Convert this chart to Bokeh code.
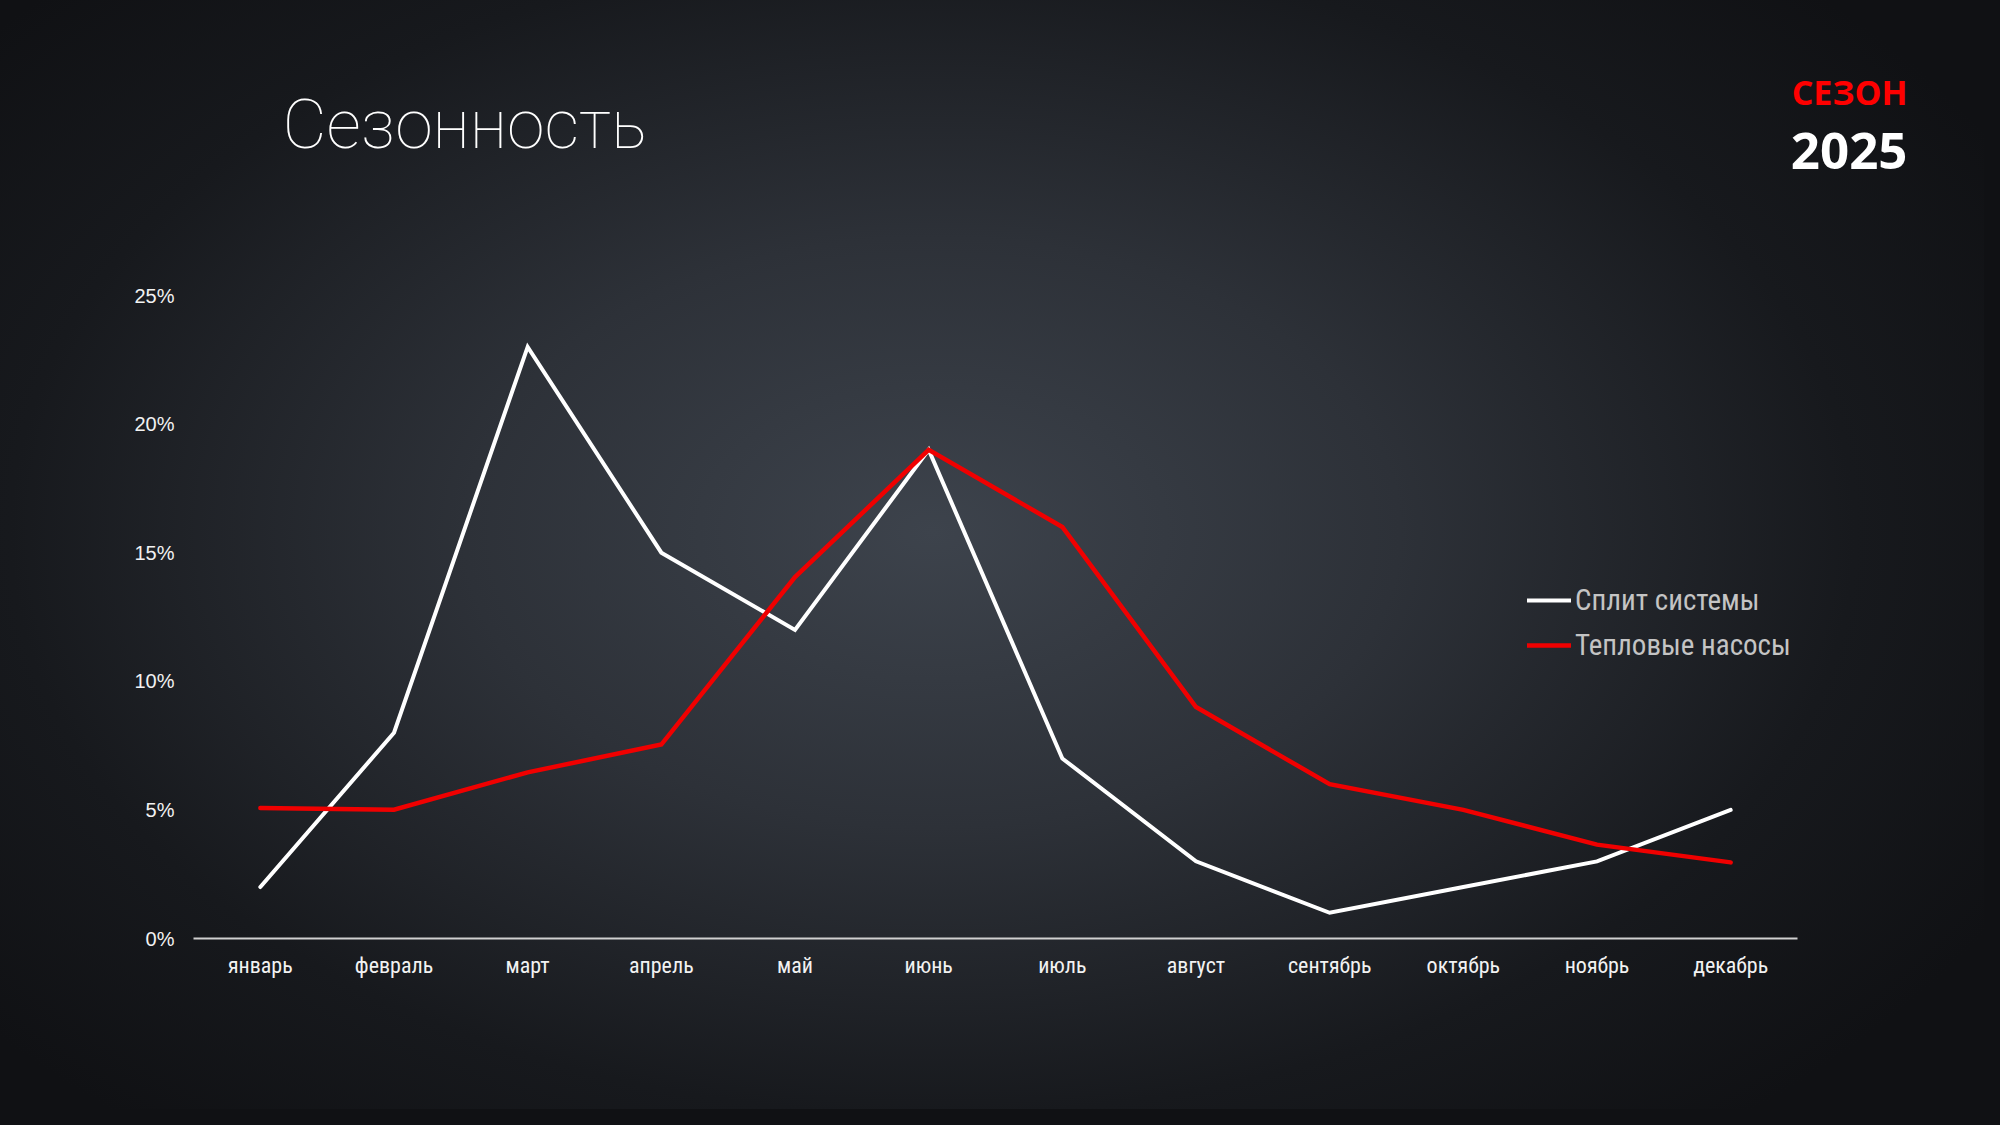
from bokeh.plotting import figure
from bokeh.models import (Range1d, FixedTicker, NumeralTickFormatter,
                          Label, GlobalInlineStyleSheet, ColumnDataSource)
from bokeh.embed import file_html
from bokeh.resources import INLINE

months = ["январь", "февраль", "март", "апрель", "май", "июнь",
          "июль", "август", "сентябрь", "октябрь", "ноябрь", "декабрь"]
split_systems = [0.02, 0.08, 0.23, 0.15, 0.12, 0.19, 0.07, 0.03, 0.01, 0.02, 0.03, 0.05]
heat_pumps = [0.0507, 0.0501, 0.0646, 0.0754, 0.1405, 0.19, 0.16, 0.09, 0.06, 0.05, 0.0365, 0.0296]
series_names = ["Сплит системы", "Тепловые насосы"]
y_ticks = [0, 0.05, 0.10, 0.15, 0.20, 0.25]
y_max_tick = 0.25
title_text = "Сезонность"
season_text = "СЕЗОН"
year_text = "2025"

NARROW = "'Liberation Sans Narrow', 'Roboto Condensed', Roboto, sans-serif"

# page geometry (pixels)
W, H = 1984, 1109
PLOT_LEFT, PLOT_RIGHT = 193, 1797      # extent of the 12 month slots
AXIS_Y, TOP_TICK_Y = 938, 295          # pixel rows of 0% and 25%

n = len(months)
x_pos = [i + 0.5 for i in range(n)]     # centre of each month slot
x_end = n * (W - PLOT_LEFT) / (PLOT_RIGHT - PLOT_LEFT)
y_end = y_max_tick * AXIS_Y / (AXIS_Y - TOP_TICK_Y)

src = ColumnDataSource(dict(x=x_pos, month=months, split=split_systems, heat=heat_pumps))

p = figure(width=W, height=H,
           x_range=Range1d(0, x_end), y_range=Range1d(0, y_end),
           output_backend="svg", toolbar_location=None,
           min_border_left=PLOT_LEFT, min_border_right=0,
           min_border_top=0, min_border_bottom=H - AXIS_Y)

p.background_fill_color = None
p.border_fill_color = None
p.outline_line_color = None
p.styles = {"background": "radial-gradient(ellipse 62% 70% at 47% 48%, #3d434c 0%, #2d3138 38%, #17191d 75%, #101114 100%)"}
p.stylesheets = [GlobalInlineStyleSheet(css="html, body { background: #101114; }")]
p.xgrid.visible = False
p.ygrid.visible = False

xa = p.xaxis[0]
xa.ticker = FixedTicker(ticks=x_pos)
xa.major_label_overrides = {x: m for x, m in zip(x_pos, months)}
xa.bounds = (0, n)
xa.axis_line_color = "#d0d0d0"
xa.axis_line_width = 2
xa.major_tick_line_color = None
xa.minor_tick_line_color = None
xa.major_label_text_color = "#f2f2f2"
xa.major_label_text_font = NARROW
xa.major_label_text_font_size = "22px"
xa.major_label_standoff = 8

ya = p.yaxis[0]
ya.axis_line_color = None
ya.major_tick_line_color = None
ya.minor_tick_line_color = None
ya.ticker = FixedTicker(ticks=y_ticks)
ya.formatter = NumeralTickFormatter(format="0%")
ya.major_label_text_color = "#f2f2f2"
ya.major_label_text_font = "'Liberation Sans', Arial, sans-serif"
ya.major_label_text_font_size = "20px"
ya.major_label_standoff = 13

p.line("x", "split", source=src, line_color="#ffffff", line_width=4,
       line_join="miter", line_cap="round", legend_label=series_names[0])
p.line("x", "heat", source=src, line_color="#f00000", line_width=4.5,
       line_join="miter", line_cap="round", legend_label=series_names[1])

lg = p.legend[0]
lg.location = (1334, 275)
lg.padding = 0
lg.margin = 0
lg.spacing = 9
lg.border_line_color = None
lg.background_fill_alpha = 0
lg.glyph_width = 44
lg.glyph_height = 36
lg.label_height = 36
lg.label_standoff = 4
lg.label_text_font = NARROW
lg.label_text_font_size = "29px"
lg.label_text_color = "#c4c4c4"

# header texts (screen units, measured from the plot frame's lower-left corner)
p.add_layout(Label(x=282 - PLOT_LEFT, y=AXIS_Y - 124, x_units="screen", y_units="screen",
                   text=title_text,
                   text_font="'Roboto Thin', 'Roboto Light', Roboto, sans-serif",
                   text_font_size="68px", text_color="#ffffff",
                   text_baseline="alphabetic", text_align="left"))
p.add_layout(Label(x=1907 - PLOT_LEFT, y=AXIS_Y - 91, x_units="screen", y_units="screen",
                   text=season_text,
                   text_font="'Open Sans', sans-serif", text_font_style="bold",
                   text_font_size="34px", text_color="#ff0000",
                   text_baseline="alphabetic", text_align="right"))
p.add_layout(Label(x=1907 - PLOT_LEFT, y=AXIS_Y - 150, x_units="screen", y_units="screen",
                   text=year_text,
                   text_font="'Open Sans', sans-serif", text_font_style="bold",
                   text_font_size="51px", text_color="#ffffff",
                   text_baseline="alphabetic", text_align="right"))

open("out.html", "w").write(file_html(p, INLINE))
